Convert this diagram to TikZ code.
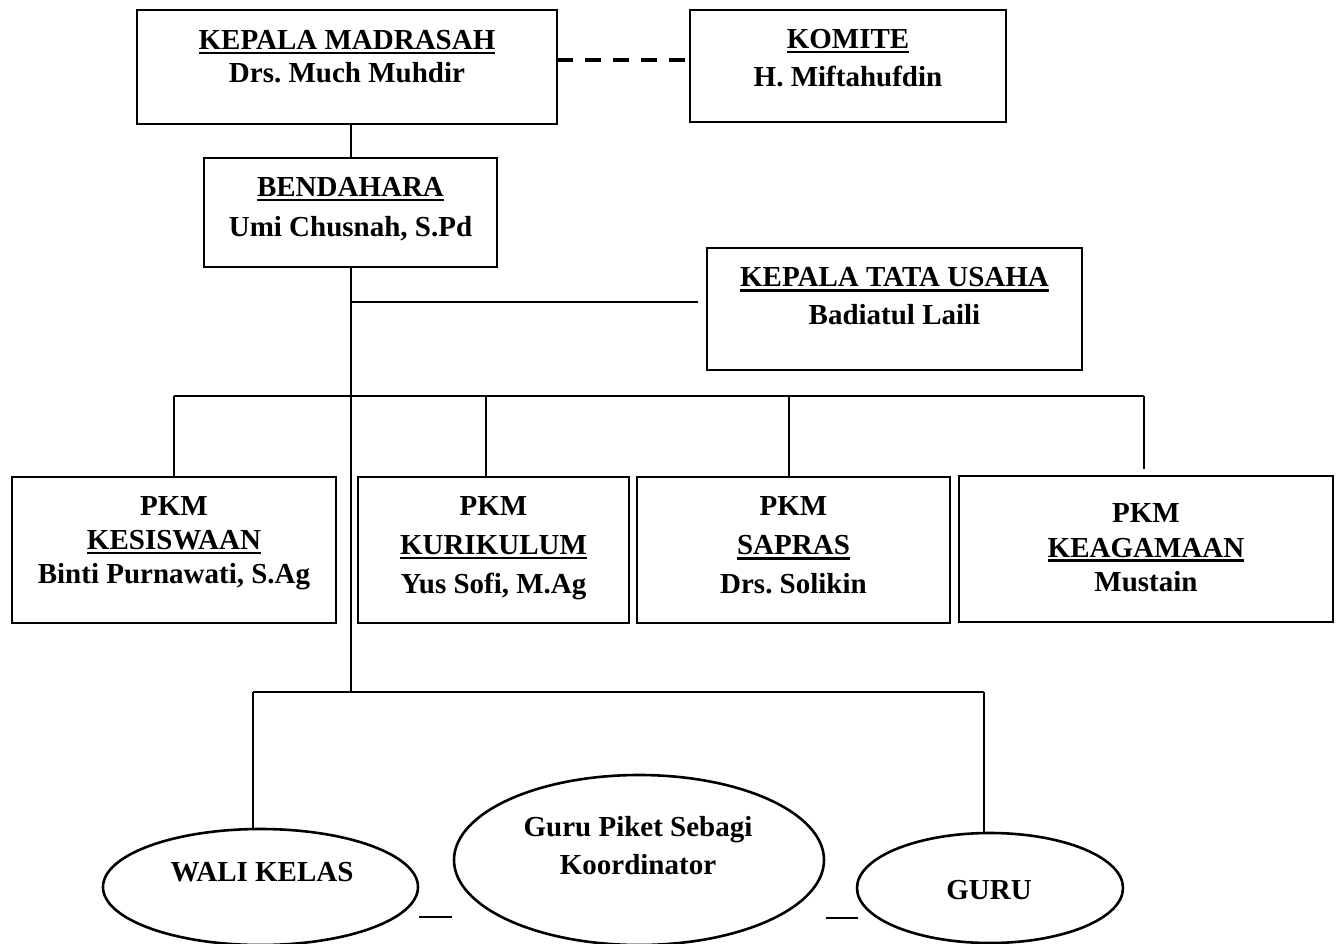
\documentclass[tikz,border=0pt]{standalone}
\usepackage{fontspec}
\setmainfont{Liberation Serif}
\usetikzlibrary{shapes.geometric}
\frenchspacing
\newcommand\ulx[1]{\setbox0=\hbox{#1}\rlap{\rule[-5pt]{\wd0}{2.6pt}}\box0}
\newcommand\tst{\rule{0pt}{25pt}}
\newcommand\bst{\rule[-6pt]{0pt}{6pt}}
\tikzset{
  box/.style={draw, line width=2.2pt, inner sep=0pt},
  oval/.style={draw, ellipse, line width=2.6pt, inner sep=0pt},
  txt/.style={font=\bfseries\fontsize{29}{#1}\selectfont, align=center, inner sep=0pt},
  conn/.style={line width=2pt},
}
\begin{document}
\begin{tikzpicture}[x=1pt,y=-1pt]
\fill[white] (0,0) rectangle (1342,944);
\useasboundingbox (0,0) rectangle (1342,944);
\clip (0,0) rectangle (1342,944);

% boxes
\node[box, minimum width=420pt, minimum height=114pt] (km) at (347,67) {};
\node[box, minimum width=316pt, minimum height=112pt] (kom) at (848,66) {};
\node[box, minimum width=293pt, minimum height=109pt] (bd) at (350.5,212.5) {};
\node[box, minimum width=375pt, minimum height=122pt] (ktu) at (894.5,309) {};
\node[box, minimum width=324pt, minimum height=146pt] (p1) at (174,550) {};
\node[box, minimum width=271pt, minimum height=146pt] (p2) at (493.5,550) {};
\node[box, minimum width=313pt, minimum height=146pt] (p3) at (793.5,550) {};
\node[box, minimum width=374pt, minimum height=146pt] (p4) at (1146,549) {};

% ellipses
\node[oval, minimum width=315pt, minimum height=116pt] (wali) at (260.5,887) {};
\node[oval, minimum width=370pt, minimum height=170pt] (piket) at (639,860) {};
\node[oval, minimum width=266pt, minimum height=110pt] (guru) at (990,888) {};

% texts
\node[txt=33] (kmt) at (347,56.5) {\tst\ulx{KEPALA MADRASAH}\\Drs. Much Muhdir\bst};
\node[txt=38] (komt) at (848,58) {\tst\ulx{KOMITE}\\H. Miftahufdin\bst};
\node[txt=40] (bdt) at (350.5,207) {\tst\ulx{BENDAHARA}\\Umi Chusnah, S.Pd\bst};
\node[txt=38] (ktut) at (894.5,296) {\tst\ulx{KEPALA TATA USAHA}\\Badiatul Laili\bst};
\node[txt=34] (p1t) at (174,540) {\tst PKM\\\ulx{KESISWAAN}\\Binti Purnawati, S.Ag\bst};
\node[txt=39] (p2t) at (493.5,545) {\tst PKM\\\ulx{KURIKULUM}\\Yus Sofi, M.Ag\bst};
\node[txt=39] (p3t) at (793.5,545) {\tst PKM\\\ulx{SAPRAS}\\Drs. Solikin\bst};
\node[txt=34.5] (p4t) at (1146,547.5) {\tst PKM\\\ulx{KEAGAMAAN}\\Mustain\bst};
\node[txt=38] (walit) at (262,872) {\tst WALI KELAS\bst};
\node[txt=38] (pikett) at (638,846) {\tst Guru Piket Sebagi\\Koordinator\bst};
\node[txt=38] (gurut) at (989,890) {\tst GURU\bst};

% connectors
\coordinate (dk) at (557,60);
\draw[line width=4pt, dash pattern=on 16pt off 12pt] (dk) -- (dk -| kom.west);
\draw[conn] (bd.north |- km.south) -- (bd.north);
\coordinate (t3) at (350.5,692);
\draw[conn] (bd.south) -- (t3);
\coordinate (tj) at (350.5,302);
\draw[conn, shorten >=8pt] (tj) -- (tj -| ktu.west);

\coordinate (b1L) at (174,396);
\coordinate (b2) at (486,396);
\coordinate (b3) at (789,396);
\coordinate (b1R) at (1144,396);
\draw[conn] (b1L) -- (b1R);
\draw[conn] (b1L) -- (p1.north);
\draw[conn] (b2) -- (b2 |- p2.north);
\draw[conn] (b3) -- (b3 |- p3.north);
\draw[conn, shorten >=6pt] (b1R) -- (b1R |- p4.north);

\coordinate (b4L) at (253,692);
\coordinate (b4R) at (984,692);
\draw[conn] (b4L) -- (b4R);
\draw[conn] (b4L) -- (b4L |- wali.north);
\draw[conn] (b4R) -- (b4R |- guru.north);

% short strokes between ellipses
\draw[line width=2.6pt] (419,917) -- (452,917);
\draw[line width=2.6pt] (826,918) -- (858,918);
\end{tikzpicture}
\end{document}
